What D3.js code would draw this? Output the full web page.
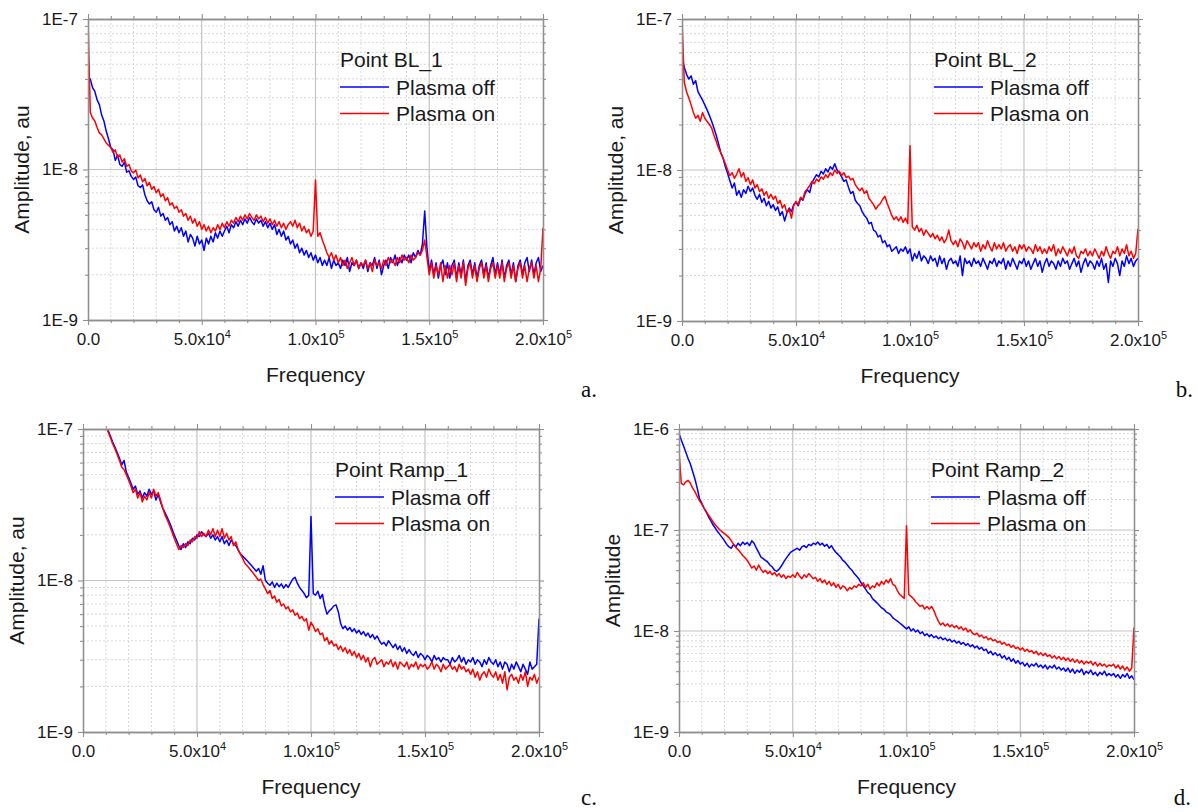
<!DOCTYPE html>
<html><head><meta charset="utf-8">
<script src="https://cdn.jsdelivr.net/npm/d3@7"></script>
<style>
body{margin:0;background:#fff;}
svg{display:block;font-family:"Liberation Sans",Arial,sans-serif;}
</style></head><body>
<svg id="chart" width="1198" height="812"></svg>
<script>
// ---------------- DATA ----------------
// amplitude values are in units of 1e-9 (au), sampled every 1 kHz from 0 to 200 kHz
const UNIT = 1e-9;
const freqHz = d3.range(0, 200001, 1000);

const xTickValues = [0, 50000, 100000, 150000, 200000];
const xTickLabels = [["0.0",""],["5.0x10","4"],["1.0x10","5"],["1.5x10","5"],["2.0x10","5"]];
const yTicksABC = [1e-9, 1e-8, 1e-7];
const yLabelsABC = ["1E-9","1E-8","1E-7"];
const yTicksD = [1e-9, 1e-8, 1e-7, 1e-6];
const yLabelsD = ["1E-9","1E-8","1E-7","1E-6"];

const seriesNames = ["Plasma off", "Plasma on"];
const legendTitles = ["Point BL_1", "Point BL_2", "Point Ramp_1", "Point Ramp_2"];
const yTitles = ["Amplitude, au", "Amplitude, au", "Amplitude, au", "Amplitude"];
const xTitle = "Frequency";
const panelLetters = ["a.", "b.", "c.", "d."];

const bl1Off = [38,40,35,33,29,27,23,21,18,16,
14,13.5,11.5,12.5,10.8,10.5,11.2,9.6,9.8,9.0,
8.6,8.9,7.8,7.6,7.9,6.8,6.2,5.9,6.1,5.4,
5.2,5.6,4.9,5.1,4.6,4.8,4.3,4.5,3.9,4.2,
3.8,4.1,3.6,3.9,3.3,3.7,3.5,3.1,3.6,3.2,
3.4,2.9,3.5,3.2,3.6,3.3,3.8,3.5,3.9,3.6,
3.9,4.2,3.8,4.3,4.1,4.5,4.2,4.6,4.3,4.7,
4.4,4.8,4.5,4.3,4.7,4.4,4.6,4.2,4.5,4.1,
4.4,4.0,4.3,3.7,4.0,3.6,3.9,3.4,3.6,3.2,
3.4,3.0,3.2,2.8,3.0,2.7,2.9,2.6,2.8,2.5,
2.7,2.4,2.6,2.3,2.5,2.3,2.6,2.2,2.5,2.3,
2.4,2.2,2.5,2.3,2.6,2.1,2.4,2.3,2.5,2.2,
2.4,2.2,2.5,2.1,2.4,2.3,2.6,2.2,2.5,2.0,
2.3,2.5,2.2,2.6,2.4,2.7,2.3,2.6,2.4,2.7,
2.5,2.7,2.4,2.8,2.6,2.9,2.7,3.2,5.3,3.0,
2.1,2.5,2.0,2.4,1.9,2.3,2.5,2.0,2.4,1.9,
2.3,2.5,1.9,2.4,2.0,2.5,1.8,2.3,2.5,2.0,
2.4,1.9,2.3,2.5,2.0,2.4,1.9,2.3,2.6,2.0,
2.4,2.0,2.5,1.9,2.3,2.5,2.0,2.4,1.8,2.3,
2.5,2.0,2.4,2.6,2.1,2.5,2.0,2.4,2.6,2.1,
2.3];

const bl1On = [100,24,22,21,19,17.5,17,16,15,14.5,
14,13,13.5,12,12.5,11.2,11.8,10.5,10.8,9.8,
9.5,9.9,8.8,9.2,8.3,8.7,7.8,8.2,7.4,7.7,
7.0,7.4,6.6,6.9,6.2,6.5,5.8,6.0,5.5,5.7,
5.2,5.4,4.9,5.1,4.6,4.9,4.4,4.7,4.2,4.5,
4.0,4.3,3.9,4.2,3.8,4.1,3.9,4.3,4.0,4.4,
4.1,4.5,4.2,4.6,4.4,4.8,4.5,4.9,4.6,5.0,
4.7,5.1,4.8,4.6,5.0,4.7,4.9,4.5,4.8,4.4,
4.7,4.3,4.6,4.2,4.5,4.1,4.4,4.0,4.3,4.5,
4.2,4.6,4.1,4.4,3.9,4.2,3.8,4.0,3.6,3.9,
8.5,3.6,3.8,3.4,3.1,2.8,2.6,2.8,2.5,2.7,
2.4,2.6,2.3,2.5,2.2,2.4,2.6,2.3,2.5,2.2,
2.4,2.3,2.5,2.2,2.4,2.1,2.5,2.3,2.4,2.2,
2.5,2.3,2.6,2.4,2.5,2.3,2.6,2.4,2.7,2.5,
2.6,2.4,2.7,2.5,2.6,2.8,2.7,2.9,3.4,2.6,
2.0,2.4,1.9,2.3,2.0,2.4,1.8,2.3,1.9,2.3,
2.0,2.4,1.8,2.3,1.9,2.4,1.7,2.2,2.4,1.9,
2.3,1.8,2.2,2.4,1.9,2.3,1.8,2.2,2.4,1.9,
2.3,1.9,2.4,1.8,2.2,2.4,1.9,2.3,1.8,2.2,
2.4,1.9,2.3,1.8,2.2,2.4,1.9,2.3,1.8,2.2,
4.1];

const bl2Off = [56,48,43,40,42,37,39,33,31,29,
27,25,23,21,19,17,15,13,12,10.5,
9.5,8.5,7.6,8.2,6.8,7.3,6.6,7.4,7.0,7.8,
7.2,7.6,6.8,6.4,6.9,6.1,6.5,5.8,6.2,5.6,
5.9,5.4,5.7,5.0,5.3,4.6,5.2,5.6,5.3,5.9,
6.1,5.8,6.5,6.3,7.0,7.4,7.1,8.2,8.8,9.3,
9.0,9.8,9.4,10.2,9.7,10.5,10.1,11.0,10.0,9.6,
9.0,8.4,8.6,7.7,7.0,7.2,6.3,6.0,5.8,5.3,
5.0,4.8,4.4,4.5,4.0,3.9,3.6,3.7,3.3,3.4,
3.1,3.2,2.9,3.0,3.1,2.8,3.0,2.9,3.1,2.8,
3.0,2.5,2.8,2.6,2.9,2.5,2.7,2.6,2.4,2.7,
2.5,2.6,2.3,2.7,2.4,2.6,2.2,2.5,2.6,2.4,
2.5,2.3,2.7,2.0,2.6,2.4,2.5,2.3,2.6,2.4,
2.5,2.3,2.6,2.4,2.2,2.5,2.4,2.6,2.3,2.5,
2.4,2.6,2.2,2.5,2.3,2.6,2.4,2.2,2.5,2.4,
2.6,2.3,2.5,2.2,2.4,2.6,2.3,2.5,2.1,2.4,
2.6,2.3,2.5,2.4,2.2,2.5,2.3,2.6,2.4,2.5,
2.2,2.4,2.6,2.3,2.5,2.1,2.4,2.6,2.3,2.5,
2.4,2.2,2.5,2.3,2.6,2.2,2.4,1.8,2.5,2.3,
2.6,2.4,2.0,2.5,2.3,2.7,2.4,2.6,2.3,2.5,
2.6];

const bl2On = [100,38,33,30,27,24,22,23,21,24,
22,21,20,19,17,15.5,14,13,12,11,
10,9.2,9.6,8.8,9.4,10.2,9.0,9.6,8.4,8.9,
8.0,8.6,7.6,8.0,7.2,7.5,6.8,7.2,6.5,6.9,
6.4,6.7,6.0,6.3,5.6,5.9,5.2,5.5,4.8,5.8,
6.2,5.9,6.6,6.4,7.2,7.5,7.9,8.4,8.1,8.7,
8.4,9.0,8.7,9.3,8.9,9.6,9.2,10.0,9.5,9.8,
9.2,9.6,8.9,9.1,8.6,8.8,8.0,7.6,7.3,7.6,
7.0,7.3,6.5,6.2,5.9,5.5,5.8,6.0,6.4,6.7,
6.0,5.5,5.0,4.7,4.9,4.6,4.9,4.5,4.8,4.4,
14.5,4.2,4.0,4.3,3.9,4.1,3.7,4.0,3.8,3.6,
3.8,3.5,3.7,3.4,3.6,3.3,3.5,4.0,3.4,3.2,
3.4,3.1,3.5,3.3,3.0,3.4,3.2,3.0,3.3,3.1,
3.3,2.9,3.2,3.0,3.4,3.1,2.9,3.3,3.0,3.2,
3.0,3.3,2.9,3.1,3.2,2.9,3.1,2.8,3.2,3.0,
3.2,2.9,3.1,3.0,2.8,3.2,2.9,3.1,2.8,3.0,
2.8,3.1,2.9,3.2,2.7,3.0,2.8,3.1,2.9,2.7,
3.0,2.8,3.1,2.7,2.6,2.9,2.8,3.0,2.7,2.9,
2.7,3.0,2.8,2.6,2.9,2.7,3.1,2.8,2.6,2.9,
2.8,3.1,2.7,3.0,2.8,3.2,2.7,2.9,2.6,2.8,
4.1];

const ramp1Off = [260,240,220,200,185,170,155,140,128,116,
106,98,90,82,76,70,64,58,62,52,
48,44,40,42,37,39,35,38,36,40,
37,39,34,37,33,30,28,26,24,22,
20,18.5,17,16,17.5,16.5,18,17.5,19,18.5,
20,19.5,21,20,19.5,20.5,19,20,18.5,19.5,
18,19.5,17.5,18.5,17,18.5,17.5,17,16,15,
14.5,14,13.5,13,12.5,12,11.5,12,11,12.5,
10,9.6,9.3,9.8,9.0,9.6,9.1,9.5,8.9,9.4,
9.0,9.6,10.2,10.5,9.6,9.0,8.6,8.2,7.7,8.0,
26.5,8.2,8.0,8.5,7.6,8.1,6.8,6.0,6.3,6.5,
6.8,6.9,6.2,5.2,4.8,5.0,4.7,4.9,4.6,4.8,
4.5,4.7,4.4,4.6,4.3,4.5,4.2,4.4,4.1,4.3,
4.0,3.8,3.9,3.7,4.0,3.8,3.6,3.8,3.5,3.7,
3.4,3.6,3.3,3.5,3.3,3.2,3.4,3.1,3.3,3.2,
3.0,3.2,3.1,2.9,3.2,3.0,3.1,2.9,3.1,3.0,
3.0,2.8,3.1,2.9,3.0,3.2,2.9,3.1,2.8,3.0,
2.9,3.1,2.8,3.0,2.9,2.7,3.0,2.8,3.1,2.9,
2.8,3.0,2.7,2.9,2.6,2.9,2.8,2.5,2.8,2.6,
2.9,2.7,2.5,2.8,2.6,2.4,2.9,2.6,2.7,2.8,
5.6];

const ramp1On = [250,232,212,195,180,165,150,137,125,114,
104,96,88,80,74,68,62,56,54,50,
46,42,38,40,35,38,33,36,34,38,
35,40,36,38,34,30,27,25,23,21,
19,17.5,16,17,16.5,17.5,17,18.5,18,19.5,
19,21,19.5,20.5,19.5,21.5,20,22,19.5,21.5,
19.5,22,19,20.5,18.5,19.5,17,18,16,15,
14,13,12.5,12,11.5,11,10.5,10,10.2,9.4,
8.8,8.2,8.6,7.6,7.9,7.2,7.5,6.8,7.0,6.5,
6.7,6.2,6.4,5.9,6.1,5.6,5.8,5.4,5.6,4.7,
5.3,5.0,4.6,4.8,4.4,4.5,4.0,4.2,3.8,4.0,
3.7,3.8,3.5,3.7,3.4,3.6,3.3,3.5,3.2,3.4,
3.1,3.3,3.0,3.2,2.9,3.1,2.7,3.0,3.1,2.8,
2.9,3.0,2.7,2.9,2.8,3.0,2.7,2.9,2.6,2.9,
2.8,2.7,2.9,2.6,2.8,2.7,2.9,2.6,2.8,2.7,
2.8,2.6,2.7,2.9,2.6,2.8,2.7,2.5,2.8,2.6,
2.7,2.8,2.6,2.7,2.5,2.8,2.6,2.7,2.5,2.6,
2.4,2.6,2.3,2.5,2.2,2.4,2.5,2.3,2.6,2.4,
2.3,2.5,2.2,2.4,2.1,2.5,1.9,2.3,2.4,2.2,
2.3,2.1,2.4,2.2,2.5,2.0,2.3,2.2,2.4,2.1,
2.3];

const ramp2Off = [900,780,680,590,510,450,380,320,260,205,
185,165,150,135,123,112,104,96,90,84,
78,72,68,66,72,68,74,70,76,72,
75,70,78,74,66,60,54,52,50,48,
45,43,40,39,41,44,48,52,56,60,
62,64,66,63,68,70,67,72,70,74,
72,76,71,74,69,72,66,70,64,60,
57,54,50,48,45,42,40,37,35,33,
30,28,26,24,23,21,20,19,18,17,
16.5,15.5,15,14.5,13.5,13,12.5,12,11.5,11,
10.5,11,10,10.5,9.8,10.2,9.4,9.8,9.0,9.4,
8.8,9.2,8.6,8.9,8.4,8.7,8.2,8.5,8.0,8.3,
7.8,8.1,7.6,7.9,7.4,7.7,7.2,7.5,7.0,7.3,
6.8,7.1,6.6,6.9,6.4,6.6,6.0,6.3,5.8,6.1,
5.7,5.9,5.4,5.7,5.2,5.5,5.0,5.3,4.8,5.1,
4.7,4.9,4.5,4.8,4.4,4.7,4.5,4.8,4.4,4.6,
4.3,4.6,4.2,4.5,4.3,4.6,4.2,4.4,4.1,4.3,
4.0,4.3,3.9,4.2,3.8,4.1,3.9,4.2,3.7,4.0,
3.8,4.1,3.7,3.9,3.6,3.9,3.7,4.0,3.6,3.8,
3.6,3.8,3.5,3.7,3.4,3.7,3.5,3.8,3.4,3.6,
3.3];

const ramp2On = [600,290,280,300,310,290,260,240,215,195,
180,165,152,140,130,120,112,106,100,96,
92,88,84,78,72,67,64,60,56,53,
50,46,42,44,40,45,41,38,40,37,
39,36,38,35,37,34,36,33,35,34,
36,34,38,35,33,36,34,37,35,33,
34,31,33,30,32,29,31,28,30,27,
29,26,28,27,25,27,26,28,27,29,
28,30,27,29,26,28,27,30,28,31,
29,32,30,33,29,28,25,23,22,21,
110,23,22,21,19.5,18.5,17.5,18,16.5,17.5,
16.5,17.5,16,14,12.5,11.5,12,11.2,11.8,11.0,
11.5,10.8,11.3,10.5,11.0,10.2,10.7,9.8,10.3,9.5,
9.2,9.5,8.8,9.1,8.5,8.8,8.2,8.5,8.0,8.2,
7.7,7.9,7.4,7.7,7.2,7.4,6.9,7.2,6.7,6.9,
6.5,6.8,6.3,6.6,6.2,6.4,6.0,6.3,5.8,6.1,
5.7,6.0,5.6,5.8,5.4,5.7,5.3,5.6,5.2,5.5,
5.1,5.4,5.0,5.3,4.9,5.2,4.8,5.1,4.7,5.0,
4.8,5.0,4.6,4.9,4.5,4.8,4.5,4.7,4.4,4.6,
4.5,4.7,4.3,4.6,4.2,4.5,4.1,4.4,4.0,4.3,
10.8];

const seriesColors = ["#0000ff", "#ff0000"];

// ---------------- LAYOUT ----------------
const panels = [
  {box:{l:88,t:19,r:543,b:320}, yTicks:yTicksABC, yLabels:yLabelsABC, data:[bl1Off, bl1On], k:0, letterPos:[597,397]},
  {box:{l:682,t:19,r:1138,b:321}, yTicks:yTicksABC, yLabels:yLabelsABC, data:[bl2Off, bl2On], k:1, letterPos:[1193,397]},
  {box:{l:83,t:429,r:539,b:732}, yTicks:yTicksABC, yLabels:yLabelsABC, data:[ramp1Off, ramp1On], k:2, letterPos:[597,805]},
  {box:{l:679,t:429,r:1134,b:732}, yTicks:yTicksD, yLabels:yLabelsD, data:[ramp2Off, ramp2On], k:3, letterPos:[1191,805]}
];

const svg = d3.select("#chart");
const axisColor = "#8f8f8f";

panels.forEach((p, pi) => {
  const {l, t, r, b} = p.box;
  const x = d3.scaleLinear().domain([xTickValues[0], xTickValues[xTickValues.length-1]]).range([l, r]);
  const y = d3.scaleLog().domain([p.yTicks[0], p.yTicks[p.yTicks.length-1]]).range([b, t]);
  const g = svg.append("g");

  const yMinor = [];
  for (let k = 0; k < p.yTicks.length - 1; k++) for (let m = 2; m <= 9; m++) yMinor.push(p.yTicks[k] * m);
  const xMinor = d3.range(0, 200001, 10000).filter(v => v % 50000 !== 0);

  // grid
  const grid = g.append("g");
  grid.selectAll(".gxm").data(xMinor).join("line")
    .attr("x1", d => x(d)).attr("x2", d => x(d)).attr("y1", t).attr("y2", b)
    .attr("stroke", "#d9d9d9").attr("stroke-width", 1).attr("stroke-dasharray", "2,2");
  grid.selectAll(".gym").data(yMinor).join("line")
    .attr("x1", l).attr("x2", r).attr("y1", d => y(d)).attr("y2", d => y(d))
    .attr("stroke", "#d9d9d9").attr("stroke-width", 1).attr("stroke-dasharray", "2,2");
  grid.selectAll(".gxM").data(xTickValues.slice(1, -1)).join("line")
    .attr("x1", d => x(d)).attr("x2", d => x(d)).attr("y1", t).attr("y2", b)
    .attr("stroke", "#c4c4c4").attr("stroke-width", 1.2);
  grid.selectAll(".gyM").data(p.yTicks.slice(1, -1)).join("line")
    .attr("x1", l).attr("x2", r).attr("y1", d => y(d)).attr("y2", d => y(d))
    .attr("stroke", "#c4c4c4").attr("stroke-width", 1.2);

  // data lines
  const clipId = "clip" + pi;
  svg.append("clipPath").attr("id", clipId).append("rect")
    .attr("x", l).attr("y", t).attr("width", r - l).attr("height", b - t);
  const line = d3.line()
    .defined(d => d[1] != null)
    .x(d => x(d[0])).y(d => y(d[1] * UNIT));
  p.data.forEach((vals, si) => {
    g.append("path")
      .attr("clip-path", "url(#" + clipId + ")")
      .attr("d", line(vals.map((v, i) => [freqHz[i], v])))
      .attr("fill", "none").attr("stroke", seriesColors[si])
      .attr("stroke-width", 1.5).attr("stroke-linejoin", "round");
  });

  // axes
  function styleAxis(sel) {
    sel.selectAll("path.domain").attr("stroke", axisColor).attr("stroke-width", 1.3);
    sel.selectAll(".tick line").attr("stroke", axisColor).attr("stroke-width", 1.1);
  }
  const gb = g.append("g").attr("transform", `translate(0,${b})`)
    .call(d3.axisBottom(x).tickValues(xTickValues).tickSize(5).tickSizeOuter(0).tickPadding(8));
  gb.selectAll(".tick text").each(function(d, i) {
    const el = d3.select(this);
    el.text(null).attr("font-size", 17).attr("fill", "#1a1a1a").attr("font-family", '"Liberation Sans",Arial,sans-serif');
    el.append("tspan").text(xTickLabels[i][0]);
    if (xTickLabels[i][1]) el.append("tspan").attr("dy", -7).attr("font-size", 11).text(xTickLabels[i][1]);
  });
  styleAxis(gb);
  const gbm = g.append("g").attr("transform", `translate(0,${b})`)
    .call(d3.axisBottom(x).tickValues(xMinor).tickSize(3).tickSizeOuter(0).tickFormat(""));
  styleAxis(gbm);
  const gt = g.append("g").attr("transform", `translate(0,${t})`)
    .call(d3.axisTop(x).tickValues(xTickValues).tickSize(5).tickSizeOuter(0).tickFormat(""));
  styleAxis(gt);
  const gtm = g.append("g").attr("transform", `translate(0,${t})`)
    .call(d3.axisTop(x).tickValues(xMinor).tickSize(3).tickSizeOuter(0).tickFormat(""));
  styleAxis(gtm);
  const gl = g.append("g").attr("transform", `translate(${l},0)`)
    .call(d3.axisLeft(y).tickValues(p.yTicks).tickSize(5).tickSizeOuter(0).tickPadding(5)
      .tickFormat((d, i) => p.yLabels[i]));
  gl.selectAll(".tick text").attr("font-size", 17).attr("fill", "#1a1a1a").attr("font-family", '"Liberation Sans",Arial,sans-serif');
  styleAxis(gl);
  const glm = g.append("g").attr("transform", `translate(${l},0)`)
    .call(d3.axisLeft(y).tickValues(yMinor).tickSize(3).tickSizeOuter(0).tickFormat(""));
  styleAxis(glm);
  const gr = g.append("g").attr("transform", `translate(${r},0)`)
    .call(d3.axisRight(y).tickValues(p.yTicks).tickSize(5).tickSizeOuter(0).tickFormat(""));
  styleAxis(gr);
  const grm = g.append("g").attr("transform", `translate(${r},0)`)
    .call(d3.axisRight(y).tickValues(yMinor).tickSize(3).tickSizeOuter(0).tickFormat(""));
  styleAxis(grm);

  // axis titles
  g.append("text").attr("x", (l + r) / 2).attr("y", b + 62)
    .attr("text-anchor", "middle").attr("font-size", 21).attr("fill", "#1a1a1a").text(xTitle);
  g.append("text").attr("transform", `translate(${l - 59},${(t + b) / 2}) rotate(-90)`)
    .attr("text-anchor", "middle").attr("font-size", 21).attr("fill", "#1a1a1a").text(yTitles[p.k]);

  // legend
  const lx = l + 252, ly = t + 48;
  const lg = g.append("g");
  lg.append("text").attr("x", lx).attr("y", ly).attr("font-size", 21).attr("fill", "#1a1a1a").text(legendTitles[p.k]);
  seriesNames.forEach((name, si) => {
    const yy = ly + 20 + si * 26.5;
    lg.append("line").attr("x1", lx).attr("x2", lx + 49).attr("y1", yy).attr("y2", yy)
      .attr("stroke", seriesColors[si]).attr("stroke-width", 1.6);
    lg.append("text").attr("x", lx + 56).attr("y", yy + 7.5).attr("font-size", 21).attr("fill", "#1a1a1a").text(name);
  });

  // panel letter
  svg.append("text").attr("x", p.letterPos[0]).attr("y", p.letterPos[1])
    .attr("text-anchor", "end").attr("font-size", 23)
    .attr("font-family", '"Liberation Serif","Times New Roman",serif').attr("fill", "#111")
    .text(panelLetters[p.k]);
});
</script>
</body></html>
